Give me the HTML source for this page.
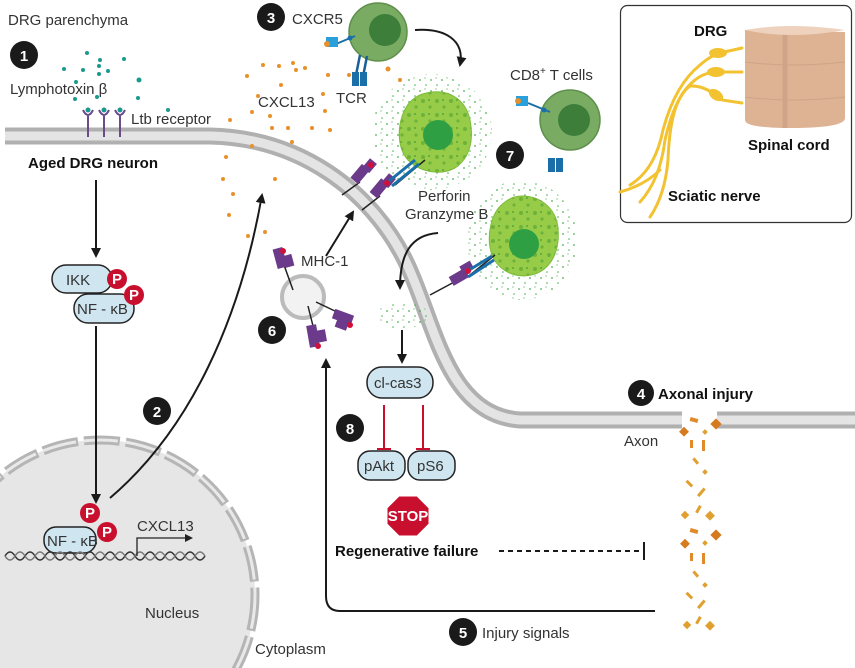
<!DOCTYPE html>
<html><head><meta charset="utf-8"><style>
html,body{margin:0;background:#fff;width:855px;height:668px;overflow:hidden}
svg{display:block}
text{font-family:"Liberation Sans",sans-serif}
.l{font-size:15px;fill:#333}
.b{font-size:15px;font-weight:bold;fill:#111}
.bd{fill:#1a1a1a}
.bt{fill:#fff;font-weight:bold;font-size:15px;text-anchor:middle}
.pill{fill:#cfe6f0;stroke:#222;stroke-width:1.5}
</style></head><body>
<svg width="855" height="668" viewBox="0 0 855 668" xmlns="http://www.w3.org/2000/svg">
<defs>
<marker id="ah" markerWidth="10" markerHeight="10" refX="8" refY="5" orient="auto" markerUnits="userSpaceOnUse"><path d="M0,0 L10,5 L0,10 z" fill="#1a1a1a"/></marker>
<pattern id="sp" width="14" height="14" patternUnits="userSpaceOnUse"><rect width="14" height="14" fill="#96cc48"/><circle cx="3" cy="3" r="2" fill="#6fb23a"/><circle cx="10" cy="9" r="1.6" fill="#6fb23a"/><circle cx="9" cy="2" r="1" fill="#5aa535"/></pattern>
<pattern id="halo" width="11" height="11" patternUnits="userSpaceOnUse"><circle cx="2" cy="3" r="0.9" fill="#4caf50"/><circle cx="8" cy="8" r="0.8" fill="#4caf50"/><circle cx="7" cy="1" r="0.6" fill="#4caf50"/></pattern>
</defs>

<!-- nucleus -->
<circle cx="100" cy="595" r="155" fill="#e6e6e6" stroke="#b5b5b5" stroke-width="9" stroke-dasharray="36 6"/>
<circle cx="100" cy="595" r="155" fill="none" stroke="#e9e9e9" stroke-width="3" stroke-dasharray="34 8"/>

<!-- membrane -->
<path d="M5,136 L210,136 C300,138 370,190 405,260 C435,320 445,415 520,420 L682,420 M717,420 L855,420" fill="none" stroke="#b0b0b0" stroke-width="17"/>
<path d="M5,136 L210,136 C300,138 370,190 405,260 C435,320 445,415 520,420 L682,420 M717,420 L855,420" fill="none" stroke="#e4e4e4" stroke-width="9"/>

<text x="8" y="25" class="l">DRG parenchyma</text>
<circle cx="24" cy="55" r="14" class="bd"/><text x="24" y="61" class="bt" font-size="16">1</text>
<text x="10" y="94" class="l">Lymphotoxin β</text>
<g fill="#1a9a8e">
<circle cx="87" cy="53" r="2"/><circle cx="100" cy="60" r="2"/><circle cx="124" cy="59" r="2"/><circle cx="64" cy="69" r="2"/><circle cx="83" cy="70" r="2"/><circle cx="99" cy="66" r="2"/><circle cx="108" cy="71" r="2"/><circle cx="99" cy="74" r="2"/><circle cx="139" cy="80" r="2.5"/><circle cx="76" cy="82" r="2"/><circle cx="97" cy="97" r="2"/><circle cx="75" cy="99" r="2"/><circle cx="138" cy="98" r="2"/><circle cx="88" cy="110" r="2.5"/><circle cx="104" cy="110" r="2.5"/><circle cx="120" cy="110" r="2.5"/><circle cx="168" cy="110" r="2"/>
</g>
<g stroke="#6a4a8a" stroke-width="2" fill="none">
<path d="M83,110 Q88,120 93,110 M88,116 V137"/><path d="M99,110 Q104,120 109,110 M104,116 V137"/><path d="M115,110 Q120,120 125,110 M120,116 V137"/>
</g>
<text x="131" y="124" class="l">Ltb receptor</text>
<text x="28" y="168" class="b">Aged DRG neuron</text>

<line x1="96" y1="180" x2="96" y2="256" stroke="#1a1a1a" stroke-width="2" marker-end="url(#ah)"/>
<rect x="52" y="265" width="60" height="28" rx="14" class="pill"/><text x="66" y="285" class="l" font-size="15">IKK</text>
<rect x="74" y="294" width="60" height="29" rx="14" class="pill"/><text x="77" y="314" class="l">NF - κB</text>
<circle cx="117" cy="279" r="10" fill="#c8102e"/><text x="117" y="284" class="bt" font-size="13">P</text>
<circle cx="134" cy="295" r="10" fill="#c8102e"/><text x="134" y="300" class="bt" font-size="13">P</text>
<line x1="96" y1="326" x2="96" y2="502" stroke="#1a1a1a" stroke-width="2" marker-end="url(#ah)"/>

<path d="M110,498 C190,430 240,320 262,195" fill="none" stroke="#1a1a1a" stroke-width="2" marker-end="url(#ah)"/>
<circle cx="157" cy="411" r="14" class="bd"/><text x="157" y="417" class="bt" font-size="16">2</text>

<rect x="44" y="527" width="52" height="26" rx="12" class="pill"/><text x="47" y="546" class="l" font-size="14">NF - κB</text>
<circle cx="90" cy="513" r="10" fill="#c8102e"/><text x="90" y="518" class="bt" font-size="13">P</text>
<circle cx="107" cy="532" r="10" fill="#c8102e"/><text x="107" y="537" class="bt" font-size="13">P</text>
<path d="M5,556 q5,-8 10,0 t10,0 t10,0 t10,0 t10,0 t10,0 t10,0 t10,0 t10,0 t10,0 t10,0 t10,0 t10,0 t10,0 t10,0 t10,0 t10,0 t10,0 t10,0 t10,0" fill="none" stroke="#333" stroke-width="1.5"/>
<path d="M5,556 q5,8 10,0 t10,0 t10,0 t10,0 t10,0 t10,0 t10,0 t10,0 t10,0 t10,0 t10,0 t10,0 t10,0 t10,0 t10,0 t10,0 t10,0 t10,0 t10,0 t10,0" fill="none" stroke="#777" stroke-width="1.5"/>
<text x="137" y="531" class="l" font-size="13">CXCL13</text>
<path d="M137,556 V538 H185" fill="none" stroke="#222" stroke-width="1.3"/><path d="M185,534 L193,538 L185,542z" fill="#222"/>
<text x="145" y="618" class="l" font-size="15">Nucleus</text>
<text x="255" y="654" class="l" font-size="15">Cytoplasm</text>

<!-- CXCL13 dots -->
<g fill="#e8902a">
<circle cx="247" cy="76" r="2"/><circle cx="263" cy="65" r="2"/><circle cx="279" cy="66" r="2"/><circle cx="293" cy="63" r="2"/><circle cx="296" cy="70" r="2"/><circle cx="305" cy="68" r="2"/><circle cx="328" cy="75" r="2"/><circle cx="349" cy="75" r="2"/><circle cx="388" cy="69" r="2.5"/><circle cx="258" cy="96" r="2"/><circle cx="281" cy="85" r="2"/><circle cx="323" cy="94" r="2"/><circle cx="252" cy="112" r="2"/><circle cx="270" cy="116" r="2"/><circle cx="325" cy="111" r="2"/><circle cx="230" cy="120" r="2"/><circle cx="272" cy="128" r="2"/><circle cx="288" cy="128" r="2"/><circle cx="312" cy="128" r="2"/><circle cx="330" cy="130" r="2"/><circle cx="292" cy="142" r="2"/><circle cx="252" cy="146" r="2"/><circle cx="226" cy="157" r="2"/><circle cx="223" cy="179" r="2"/><circle cx="275" cy="179" r="2"/><circle cx="233" cy="194" r="2"/><circle cx="229" cy="215" r="2"/><circle cx="248" cy="236" r="2"/><circle cx="265" cy="232" r="2"/><circle cx="400" cy="80" r="2"/>
</g>
<text x="258" y="107" class="l">CXCL13</text>

<circle cx="271" cy="17" r="14" class="bd"/><text x="271" y="23" class="bt" font-size="16">3</text>
<text x="292" y="24" class="l">CXCR5</text>
<circle cx="378" cy="32" r="29" fill="#7aab63" stroke="#5e8f4b" stroke-width="1.5"/>
<circle cx="385" cy="30" r="16" fill="#3d7f3a"/>
<path d="M336,44 L355,36" stroke="#1a6fa8" stroke-width="2"/><circle cx="350" cy="38" r="2.5" fill="#1a6fa8"/>
<rect x="326" y="37" width="12" height="10" fill="#29a0dc"/><circle cx="327" cy="44" r="3" fill="#e8902a"/>
<path d="M360,55 L355,80 M367,56 L362,82" stroke="#1a5f98" stroke-width="2.5"/><rect x="352" y="72" width="7" height="14" fill="#1a6fa8"/><rect x="360" y="72" width="7" height="14" fill="#1a6fa8"/>
<text x="336" y="103" class="l">TCR</text>
<path d="M415,30 C445,28 465,40 460,65" fill="none" stroke="#1a1a1a" stroke-width="2" marker-end="url(#ah)"/>

<!-- green halos -->
<ellipse cx="432" cy="132" rx="60" ry="58" fill="url(#halo)"/>
<ellipse cx="522" cy="240" rx="55" ry="60" fill="url(#halo)"/>
<ellipse cx="402" cy="315" rx="26" ry="14" fill="url(#halo)"/>
<path d="M432,92 C450,90 466,100 470,120 C474,140 470,158 455,168 C440,176 420,172 408,160 C396,148 396,118 410,102 C418,94 425,93 432,92z" fill="url(#sp)" stroke="#7dbb3a"/>
<circle cx="438" cy="135" r="15" fill="#2ea043"/>
<path d="M522,196 C540,196 556,208 558,228 C560,250 552,268 535,274 C515,280 498,270 492,255 C486,238 490,212 505,202 C510,198 516,196 522,196z" fill="url(#sp)" stroke="#7dbb3a"/>
<circle cx="524" cy="244" r="15" fill="#2ea043"/>

<circle cx="570" cy="120" r="30" fill="#7aab63" stroke="#5e8f4b" stroke-width="1.5"/>
<circle cx="574" cy="120" r="16" fill="#3d7f3a"/>
<path d="M528,103 L550,112" stroke="#1a6fa8" stroke-width="2"/><circle cx="544" cy="110" r="2.5" fill="#1a6fa8"/>
<rect x="516" y="96" width="12" height="10" fill="#29a0dc"/><circle cx="518" cy="101" r="3" fill="#e8902a"/>
<rect x="548" y="158" width="7" height="14" fill="#1a6fa8"/><rect x="556" y="158" width="7" height="14" fill="#1a6fa8"/>
<text x="510" y="80" class="l">CD8<tspan font-size="10" dy="-6">+</tspan><tspan dy="6"> T cells</tspan></text>
<circle cx="510" cy="155" r="14" class="bd"/><text x="510" y="161" class="bt" font-size="16">7</text>

<!-- MHC on membrane with TCR -->
<g stroke="#222" stroke-width="1.5">
<line x1="342" y1="195" x2="360" y2="182"/><line x1="362" y1="210" x2="380" y2="196"/><line x1="430" y1="295" x2="458" y2="280"/>
<line x1="395" y1="185" x2="425" y2="160"/><line x1="470" y1="275" x2="495" y2="255"/>
</g>
<g fill="#6b3a8a">
<rect x="355" y="165" width="10" height="18" transform="rotate(40 360 174)"/><rect x="365" y="160" width="9" height="12" transform="rotate(40 370 166)"/>
<rect x="374" y="180" width="10" height="18" transform="rotate(40 380 189)"/><rect x="384" y="175" width="9" height="12" transform="rotate(40 389 181)"/>
<rect x="454" y="268" width="10" height="18" transform="rotate(60 459 277)"/><rect x="462" y="262" width="9" height="12" transform="rotate(60 467 268)"/>
</g>
<path d="M388,182 L415,160 M392,186 L419,164 M466,272 L492,256 M468,277 L494,260" stroke="#1a6fa8" stroke-width="3"/>
<circle cx="371" cy="165" r="3" fill="#d0103a"/><circle cx="387" cy="183" r="3" fill="#d0103a"/><circle cx="468" cy="271" r="3" fill="#d0103a"/>

<text x="418" y="201" class="l">Perforin</text>
<text x="405" y="219" class="l">Granzyme B</text>

<!-- vesicle and MHC -->
<circle cx="303" cy="297" r="21" fill="#f2f2f2" stroke="#bbb" stroke-width="4"/>
<g stroke="#222" stroke-width="1.5"><line x1="293" y1="290" x2="284" y2="265"/><line x1="316" y1="302" x2="337" y2="312"/><line x1="308" y1="306" x2="314" y2="330"/></g>
<g fill="#6b3a8a">
<rect x="275" y="248" width="10" height="20" transform="rotate(-15 280 258)"/><rect x="284" y="255" width="9" height="12" transform="rotate(-15 288 261)"/>
<rect x="333" y="312" width="20" height="10" transform="rotate(20 343 317)"/><rect x="336" y="320" width="12" height="9" transform="rotate(20 342 324)"/>
<rect x="308" y="325" width="10" height="22" transform="rotate(-10 313 336)"/><rect x="317" y="330" width="9" height="12" transform="rotate(-10 321 336)"/>
</g>
<circle cx="283" cy="251" r="3" fill="#d0103a"/><circle cx="350" cy="325" r="3" fill="#d0103a"/><circle cx="318" cy="346" r="3" fill="#d0103a"/>
<text x="301" y="266" class="l">MHC-1</text>
<line x1="326" y1="256" x2="353" y2="212" stroke="#1a1a1a" stroke-width="2" marker-end="url(#ah)"/>
<circle cx="272" cy="330" r="14" class="bd"/><text x="272" y="336" class="bt" font-size="16">6</text>

<path d="M438,233 C410,235 400,255 400,288" fill="none" stroke="#1a1a1a" stroke-width="2" marker-end="url(#ah)"/>
<line x1="402" y1="330" x2="402" y2="362" stroke="#1a1a1a" stroke-width="2" marker-end="url(#ah)"/>
<rect x="367" y="367" width="66" height="31" rx="15" class="pill"/><text x="374" y="388" class="l">cl-cas3</text>
<g stroke="#c8102e" stroke-width="2"><line x1="384" y1="405" x2="384" y2="449"/><line x1="377" y1="449" x2="391" y2="449"/><line x1="423" y1="405" x2="423" y2="449"/><line x1="416" y1="449" x2="430" y2="449"/></g>
<circle cx="350" cy="428" r="14" class="bd"/><text x="350" y="434" class="bt" font-size="16">8</text>
<rect x="358" y="451" width="47" height="29" rx="12" class="pill"/><text x="364" y="471" class="l">pAkt</text>
<rect x="408" y="451" width="47" height="29" rx="12" class="pill"/><text x="417" y="471" class="l">pS6</text>
<polygon points="399,496 417,496 429,508 429,524 417,536 399,536 387,524 387,508" fill="#c8102e" stroke="#fff"/>
<text x="408" y="521" class="bt" font-size="13">STOP</text>
<text x="335" y="556" class="b">Regenerative failure</text>
<line x1="499" y1="551" x2="642" y2="551" stroke="#1a1a1a" stroke-width="2" stroke-dasharray="5 4"/>
<line x1="644" y1="542" x2="644" y2="560" stroke="#1a1a1a" stroke-width="2"/>

<path d="M655,611 L340,611 Q326,611 326,596 L326,360" fill="none" stroke="#1a1a1a" stroke-width="2" marker-end="url(#ah)"/>
<circle cx="463" cy="632" r="14" class="bd"/><text x="463" y="638" class="bt" font-size="16">5</text>
<text x="482" y="638" class="l">Injury signals</text>

<circle cx="641" cy="393" r="13" class="bd"/><text x="641" y="399" class="bt" font-size="16">4</text>
<text x="658" y="399" class="b">Axonal injury</text>
<text x="624" y="446" class="l">Axon</text>
<g fill="#e0a030">
<rect x="690" y="418" width="8" height="4" fill="#e08a2a" transform="rotate(15 694 420)"/><rect x="712" y="420" width="8" height="8" fill="#d67a20" transform="rotate(45 716 424)"/><rect x="681" y="428" width="7" height="7" fill="#d67a20" transform="rotate(45 684 431)"/><rect x="703" y="430" width="4" height="4" transform="rotate(45 705 432)"/>
<rect x="690" y="440" width="3" height="8" fill="#e08a2a"/><rect x="702" y="440" width="3" height="11" fill="#e08a2a"/><rect x="694" y="458" width="3" height="7" transform="rotate(-40 695 461)"/><rect x="703" y="470" width="4" height="4" transform="rotate(45 705 472)"/>
<rect x="688" y="480" width="3" height="8" transform="rotate(-45 689 484)"/><rect x="700" y="487" width="3" height="10" transform="rotate(40 701 492)"/>
<rect x="682" y="512" width="6" height="6" transform="rotate(45 685 515)"/><rect x="697" y="505" width="3" height="8" transform="rotate(30 698 509)"/><rect x="707" y="512" width="7" height="7" transform="rotate(45 710 515)"/>
<rect x="690" y="529" width="8" height="4" fill="#e08a2a" transform="rotate(15 694 531)"/><rect x="712" y="531" width="8" height="8" fill="#d67a20" transform="rotate(45 716 535)"/><rect x="682" y="540" width="7" height="7" fill="#d67a20" transform="rotate(45 685 543)"/><rect x="703" y="541" width="4" height="4" transform="rotate(45 705 543)"/>
<rect x="690" y="553" width="3" height="8" fill="#e08a2a"/><rect x="702" y="553" width="3" height="11" fill="#e08a2a"/><rect x="694" y="571" width="3" height="7" transform="rotate(-40 695 574)"/><rect x="703" y="583" width="4" height="4" transform="rotate(45 705 585)"/>
<rect x="688" y="592" width="3" height="8" transform="rotate(-45 689 596)"/><rect x="700" y="599" width="3" height="10" transform="rotate(40 701 604)"/>
<rect x="684" y="622" width="6" height="6" transform="rotate(45 687 625)"/><rect x="697" y="616" width="3" height="8" transform="rotate(30 698 620)"/><rect x="707" y="622" width="7" height="7" transform="rotate(45 710 625)"/>
</g>

<!-- inset -->
<rect x="620.5" y="5.5" width="231" height="217" rx="7" fill="#fff" stroke="#333" stroke-width="1.2"/>
<path d="M745,30 L745,120 Q745,128 790,128 Q845,128 845,118 L845,32 Z" fill="#ddb394"/>
<path d="M785,34 L785,128" stroke="#cfa488" stroke-width="5"/>
<path d="M745,62 Q790,68 845,62 M745,97 Q790,103 845,97" fill="none" stroke="#cfa488"/>
<path d="M745,30 Q790,22 845,30 Q790,40 745,30Z" fill="#eed2bd"/>
<text x="694" y="36" class="b" font-size="15">DRG</text>
<text x="748" y="150" class="b">Spinal cord</text>
<text x="668" y="201" class="b">Sciatic nerve</text>
<g fill="none" stroke="#f2c230" stroke-width="3" stroke-linecap="round">
<path d="M742,48 L720,53 Q710,56 700,65 Q675,85 663,130 Q655,170 630,185"/>
<path d="M742,72 L718,72 Q705,72 695,80 Q675,95 665,140 Q660,180 640,202"/>
<path d="M742,103 L722,100 Q705,85 690,86 Q670,100 668,160 Q665,195 650,217"/>
<path d="M620,192 Q645,185 660,170"/>
</g>
<g fill="#f2c230"><ellipse cx="718" cy="53" rx="9" ry="5"/><ellipse cx="716" cy="72" rx="9" ry="5"/><ellipse cx="716" cy="95" rx="8" ry="5" transform="rotate(35 716 95)"/></g>
</svg>
</body></html>
